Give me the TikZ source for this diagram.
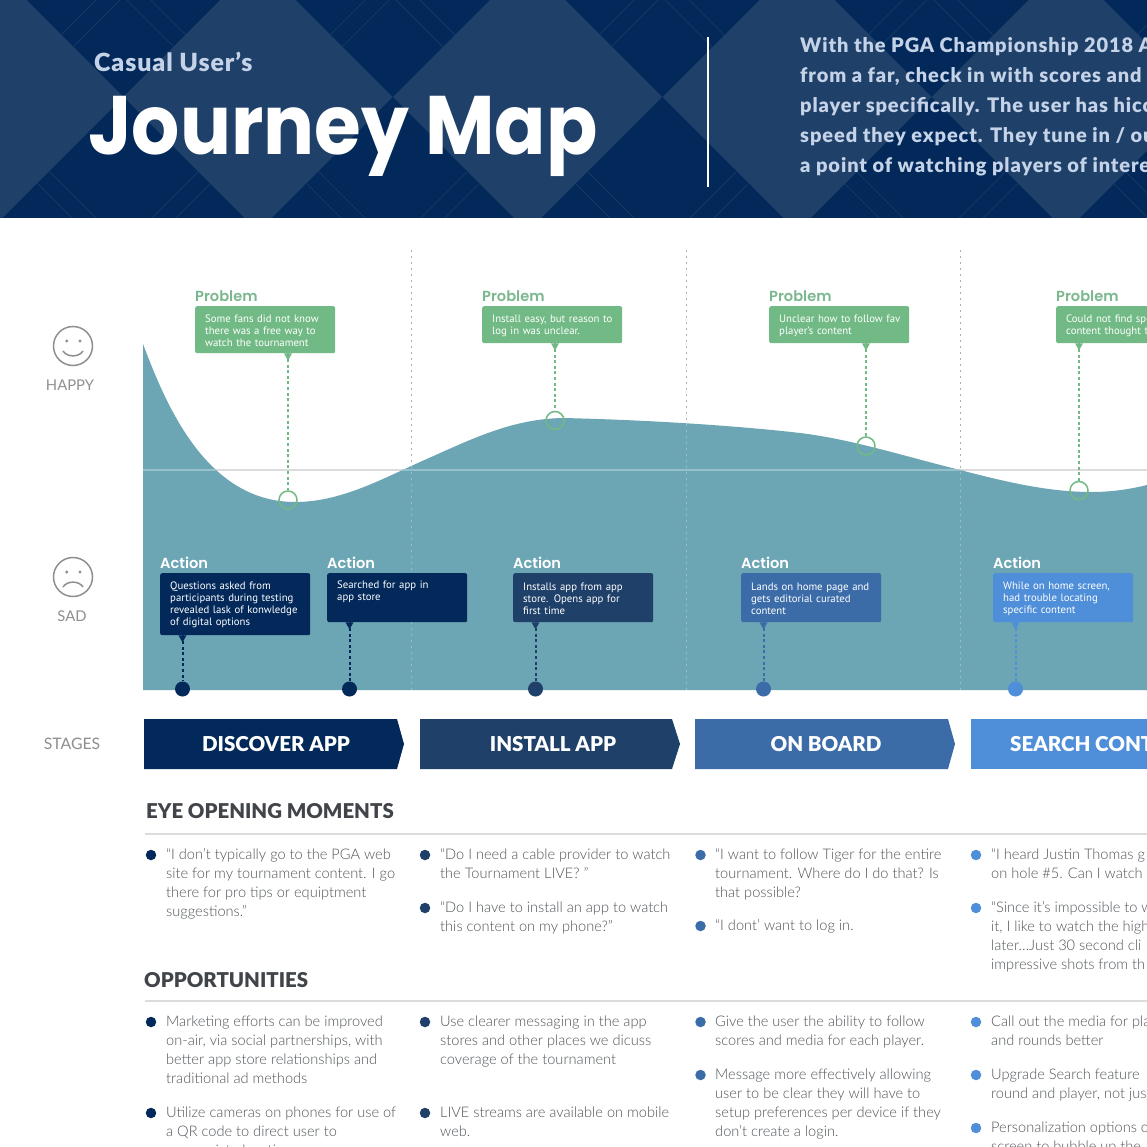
\documentclass[tikz,border=0pt]{standalone}
\usepackage{fontspec}
\setmainfont{Lato}
\newfontfamily\lightf{Lato Light}
\newfontfamily\blackf{Poppins Bold}
\newfontfamily\subf[LetterSpace=3.5]{Lato Black}
\newfontfamily\boldf[LetterSpace=4.5]{Lato Black}
\newfontfamily\headf{Lato Black}
\newfontfamily\popf{Poppins SemiBold}
\newfontfamily\boxf{PT Sans}
\definecolor{navy}{HTML}{02295A}
\definecolor{navyl}{HTML}{1F4068}
\definecolor{midb}{HTML}{3C6CA8}
\definecolor{skyb}{HTML}{4F8ED9}
\definecolor{teal1}{HTML}{6CA5B4}
\definecolor{green1}{HTML}{72BA85}
\definecolor{greenl}{HTML}{7CB88F}
\definecolor{pale}{HTML}{C5D3E8}
\definecolor{graytxt}{HTML}{8F8F8F}
\definecolor{bodyc}{HTML}{4F5458}
\definecolor{headc}{HTML}{414549}
\definecolor{rulec}{HTML}{DCDCDC}
\tikzset{
  boxbase/.style={rounded corners=2pt,inner xsep=7pt,inner ysep=0pt,anchor=north west,
    text width=#1,text=white,font=\boxf\fontsize{10.75}{12}\selectfont,
    execute at begin node={\leftskip=3pt\rightskip=0pt plus 1fil},
    execute at end node={\par\vspace*{-2pt}}},
  problabel/.style={anchor=west,inner sep=0pt,text=greenl,font=\popf\fontsize{14.6}{14}\selectfont},
  actlabel/.style={anchor=west,inner sep=0pt,text=white,font=\popf\fontsize{14.6}{14}\selectfont},
  bodytxt/.style={anchor=north west,inner sep=0pt,align=left,text=bodyc,font=\lightf\fontsize{14.6}{19}\selectfont},
  bulletdot/.style={circle,fill=#1,inner sep=0pt,minimum size=10.5pt},
  ring/.style={circle,draw=green1,line width=1.5pt,inner sep=0pt,minimum size=18pt},
  enddot/.style={circle,fill=#1,inner sep=0pt,minimum size=15pt},
  sidetxt/.style={inner sep=0pt,text=graytxt,font=\fontsize{14.8}{16}\selectfont},
  dashline/.style={line width=2pt,dash pattern=on 3pt off 2.6pt,draw=#1},
  seclabel/.style={anchor=west,inner sep=0pt,text=headc,font=\headf\fontsize{20.4}{20}\selectfont},
  stagetxt/.style={inner sep=0pt,text=white,font=\headf\fontsize{20.5}{20}\selectfont},
  intro/.style={anchor=base west,inner sep=0pt,text=pale,font=\boldf\fontsize{20}{20}\selectfont},
  thinl/.style={draw=navyl,line width=0.4pt},
}
\newcommand{\probbox}[7]{% name, x, text width, height, connector x, ring y, text
  \node[problabel] (#1l) at (#2,296) {Problem};
  \node[boxbase=#3pt,fill=green1,minimum height=#4pt] (#1b) at (#2,306) {#7};
  \node[ring] (#1r) at (#5,#6) {};
  \fill[green1] (#1b.south -| #1r) ++(-4,0) -- ++(8,0) -- ++(-4,7) -- cycle;
  \draw[dashline=green1] (#1b.south -| #1r) -- (#1r.north);
}
\newcommand{\actbox}[7]{% name, x, text width, height, connector x, colour, text
  \node[actlabel] (#1l) at (#2,563) {Action};
  \node[boxbase=#3pt,fill=#6,minimum height=#4pt] (#1b) at (#2,573) {#7};
  \node[enddot=#6] (#1d) at (#5,689) {};
  \fill[#6] (#1b.south -| #1d) ++(-4,0) -- ++(8,0) -- ++(-4,7) -- cycle;
  \draw[dashline=#6] (#1b.south -| #1d) -- (#1d.north);
}
\newcommand{\bul}[4]{% name, column, y, text
  \ifcase#2\or\def\bx{151}\def\tx{166}\def\bc{navy}\or\def\bx{425}\def\tx{440}\def\bc{navyl}\or\def\bx{700.5}\def\tx{715}\def\bc{midb}\or\def\bx{976}\def\tx{991}\def\bc{skyb}\fi
  \node[bulletdot=\bc] (#1d) at (\bx,#3+1) {};
  \node[bodytxt] (#1t) at (\tx,#3-8.3) {\strut #4};
}
\def\curve{(143,344) .. controls (165,402) and (205,502) .. (295,502)
  .. controls (340,502) and (380,480) .. (420,462)
  .. controls (470,440) and (510,419) .. (563,418)
  .. controls (650,420) and (740,426) .. (800,433)
  .. controls (850,439) and (900,455) .. (960,470)
  .. controls (1010,483) and (1050,492) .. (1092,492)
  .. controls (1115,492) and (1135,488) .. (1147,485)}
\begin{document}
\begin{tikzpicture}[x=1pt,y=-1pt]
\useasboundingbox (0,0) rectangle (1147,1147);
\clip (0,0) rectangle (1147,1147);
\fill[white] (0,0) rectangle (1147,1147);
% header
\begin{scope}
\clip (0,0) rectangle (1147,218);
\fill[navy] (0,0) rectangle (1147,218);
\foreach \c in {-11,258,527.5,797,1066,1335}
  \fill[navyl] (\c-134.5,97) -- (\c,-37.5) -- (\c+134.5,97) -- (\c,231.5) -- cycle;
\foreach \k in {-1,0,1,2,3,4}{
  \pgfmathsetmacro{\s}{269*\k}
  \draw[thinl] (61.5+\s,34.5) -- (96+\s,0);
  \draw[thinl] (73.5+\s,46.5) -- (120+\s,0);
  \draw[thinl] (174+\s,47) -- (127+\s,0);
  \draw[thinl] (186+\s,35) -- (151+\s,0);
  \draw[thinl] (49.5+\s,171.5) -- (96+\s,218);
  \draw[thinl] (37.5+\s,183.5) -- (72+\s,218);
  \draw[thinl] (198+\s,172) -- (152+\s,218);
  \draw[thinl] (210+\s,184) -- (176+\s,218);
}
\end{scope}
\node[anchor=west,inner sep=0pt,text=pale,font=\subf\fontsize{25}{25}\selectfont] (sub) at (94,62) {Casual User’s};
\node[anchor=base west,inner sep=0pt,text=white,font=\blackf\fontsize{83}{83}\selectfont] (title) at (88,155) {\scalebox{0.912}[1]{Journey Map}};
\coordinate (lt) at (708,37);
\coordinate (lb) at (708,187);
\draw[white,line width=2pt] (lt) -- (lb);
\node[intro] (i1) at (800,52.7) {With the PGA Championship 2018 A};
\node[intro] (i2) at (800,82.7) {from a far, check in with scores and};
\node[intro] (i3) at (800,112.7) {player specifically. The user has hicc};
\node[intro] (i4) at (800,142.7) {speed they expect. They tune in / ou};
\node[intro] (i5) at (800,172.7) {a point of watching players of intere};
% chart
\foreach \x in {411.5,686.5,960.5}
  \draw[graytxt!70,line width=0.8pt,dash pattern=on 2pt off 4pt] (\x,250) -- (\x,690);
\draw[rulec,line width=1.5pt] (143,470) -- (1147,470);
\fill[teal1] \curve -- (1147,690) -- (143,690) -- cycle;
\begin{scope}
\clip \curve -- (1147,690) -- (143,690) -- cycle;
\foreach \x in {411.5,686.5,960.5}
  \draw[white!30!teal1,line width=0.8pt,dash pattern=on 2pt off 4pt] (\x,250) -- (\x,690);
\draw[white!30!teal1,line width=1.5pt] (143,470) -- (1147,470);
\end{scope}
% face icons
\node[circle,draw=graytxt,line width=1.5pt,minimum size=39pt,inner sep=0pt] (happy) at (73,346) {};
\fill[graytxt] (66.7,341) circle (1.7) (80,341) circle (1.7);
\draw[graytxt,line width=1.5pt] (63,351) .. controls (67,357.5) and (79,357.5) .. (83,351);
\node[sidetxt] (happyt) at (70,385) {HAPPY};
\node[circle,draw=graytxt,line width=1.5pt,minimum size=39pt,inner sep=0pt] (sad) at (73,577) {};
\fill[graytxt] (66.7,572) circle (1.7) (80,572) circle (1.7);
\draw[graytxt,line width=1.5pt] (63,587) .. controls (67,580.5) and (79,580.5) .. (83,587);
\node[sidetxt] (sadt) at (72,616) {SAD};
\node[sidetxt,font=\fontsize{15.8}{16}\selectfont] (staget) at (72,743.5) {STAGES};
% problems
\probbox{p1}{195}{126}{47}{288}{500}{Some fans did not know\\there was a free way to\\watch the tournament}
\probbox{p2}{482}{126}{37}{555}{420.5}{Install easy, but reason to\\log in was unclear.}
\probbox{p3}{769}{126}{37}{866}{446}{Unclear how to follow fav\\player’s content}
\probbox{p4}{1056}{126}{37}{1079}{490.5}{Could not find spe\\content thought t}
% actions
\actbox{a1}{160}{136}{62}{182.5}{navy}{Questions asked from\\participants during testing\\revealed lask of konwledge\\of digital options}
\actbox{a2}{327}{126}{49}{349.5}{navy}{Searched for app in\\app store\\\strut}
\actbox{a3}{513}{126}{49}{535.5}{navyl}{Installs app from app\\store. Opens app for\\first time}
\actbox{a4}{741}{126}{49}{763.5}{midb}{Lands on home page and\\gets editorial curated\\content}
\actbox{a5}{993}{126}{49}{1015.5}{skyb}{While on home screen,\\had trouble locating\\specific content}
% stages
\fill[navy] (144,719) -- (397,719) -- (404,744) -- (397,769) -- (144,769) -- cycle;
\node[stagetxt] (s1) at (276,744) {DISCOVER APP};
\fill[navyl] (420,719) -- (672,719) -- (680,744) -- (672,769) -- (420,769) -- cycle;
\node[stagetxt] (s2) at (553,744) {INSTALL APP};
\fill[midb] (695,719) -- (948,719) -- (955,744) -- (948,769) -- (695,769) -- cycle;
\node[stagetxt] (s3) at (826,744) {ON BOARD};
\fill[skyb] (971,719) -- (1150,719) -- (1150,769) -- (971,769) -- cycle;
\node[stagetxt,anchor=west] (s4) at (1010,744) {SEARCH CONT};
% sections
\node[seclabel] (eye) at (146,811) {EYE OPENING MOMENTS};
\node[seclabel] (opp) at (144,980) {OPPORTUNITIES};
\coordinate (r1a) at (145,833.5);
\coordinate (r1b) at (1147,833.5);
\coordinate (r2a) at (145,1000.5);
\coordinate (r2b) at (1147,1000.5);
\draw[rulec,line width=2pt] (r1a) -- (r1b);
\draw[rulec,line width=2pt] (r2a) -- (r2b);
% eye opening moments
\bul{ea}{1}{854}{“I don’t typically go to the PGA web\\site for my tournament content. I go\\there for pro tips or equiptment\\suggestions.”}
\bul{eb}{2}{854}{“Do I need a cable provider to watch\\the Tournament LIVE? ”}
\bul{ec}{2}{907}{“Do I have to install an app to watch\\this content on my phone?”}
\bul{ed}{3}{854}{“I want to follow Tiger for the entire\\tournament. Where do I do that? Is\\that possible?}
\bul{ee}{3}{925}{“I dont’ want to log in.}
\bul{ef}{4}{854}{“I heard Justin Thomas g\\on hole \#5. Can I watch t}
\bul{eg}{4}{907}{“Since it’s impossible to w\\it, I like to watch the high\\later…Just 30 second cli\\impressive shots from th}
% opportunities
\bul{oa}{1}{1021}{Marketing efforts can be improved\\on-air, via social partnerships, with\\better app store relationships and\\traditional ad methods}
\bul{ob}{1}{1112}{Utilize cameras on phones for use of\\a QR code to direct user to\\appropriate location}
\bul{oc}{2}{1021}{Use clearer messaging in the app\\stores and other places we dicuss\\coverage of the tournament}
\bul{od}{2}{1112}{LIVE streams are available on mobile\\web.}
\bul{oe}{3}{1021}{Give the user the ability to follow\\scores and media for each player.}
\bul{of}{3}{1074}{Message more effectively allowing\\user to be clear they will have to\\setup preferences per device if they\\don’t create a login.}
\bul{og}{4}{1021}{Call out the media for pla\\and rounds better}
\bul{oh}{4}{1074}{Upgrade Search feature\\round and player, not jus}
\bul{oi}{4}{1127}{Personalization options o\\screen to bubble up the}
\end{tikzpicture}
\end{document}
